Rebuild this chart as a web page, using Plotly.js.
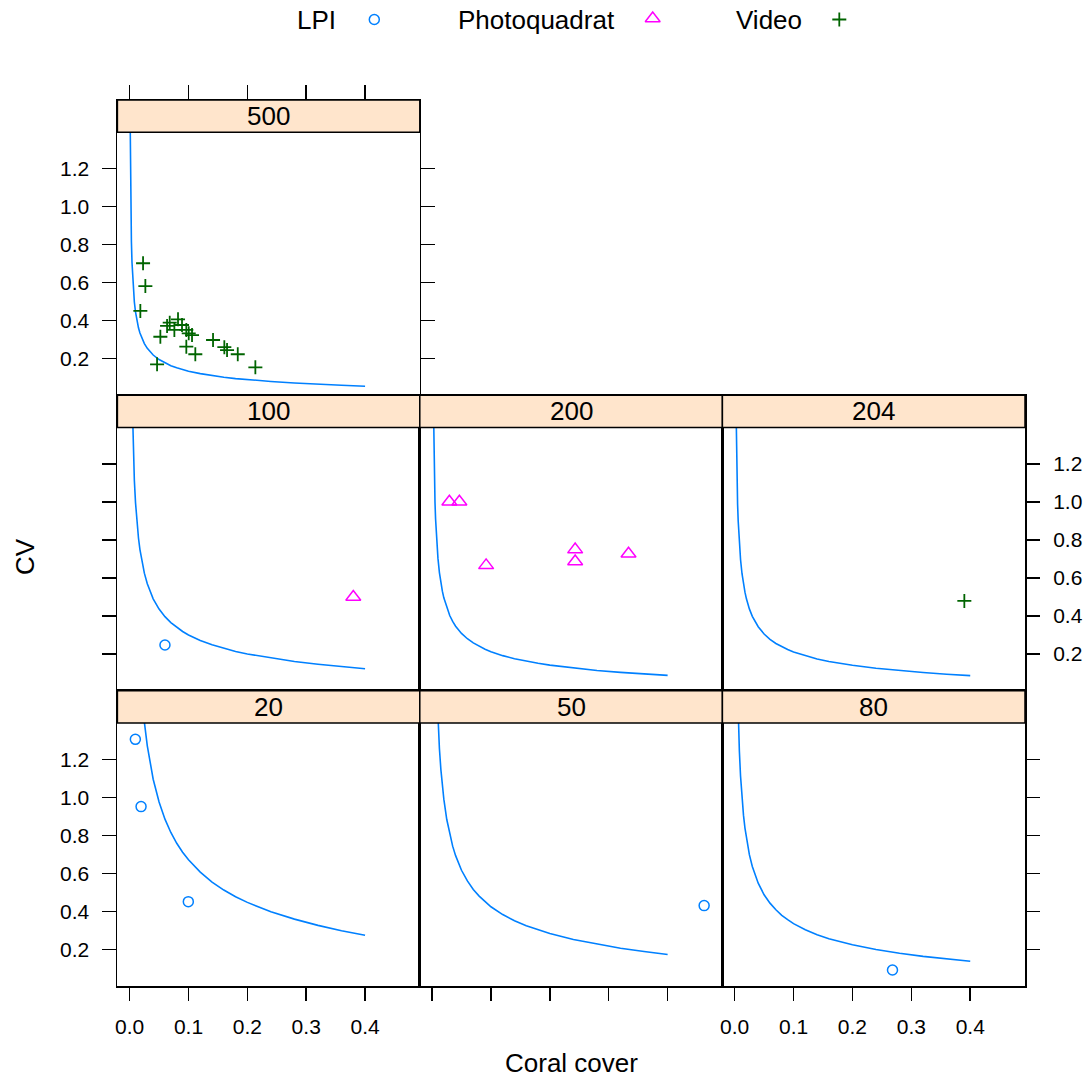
<!DOCTYPE html>
<html><head><meta charset="utf-8">
<script src="https://cdn.plot.ly/plotly-3.0.1.min.js"></script>
<style>body{margin:0;background:#fff}#chart{width:1088px;height:1081px}</style>
</head><body><div id="chart"></div>
<script>
// ---------------- data ----------------
const panelNames = ['500', '100', '200', '204', '20', '50', '80'];
const methodNames = ['LPI', 'Photoquadrat', 'Video'];
const yTickVals = [0.2, 0.4, 0.6, 0.8, 1.0, 1.2];
const xTickVals = [0.0, 0.1, 0.2, 0.3, 0.4];

const lpiPanel = ['100', '20', '20', '20', '50', '80'];
const lpiCover = [0.060, 0.0097, 0.0194, 0.0997, 0.462, 0.268];
const lpiCV    = [0.247, 1.305, 0.951, 0.451, 0.430, 0.091];

const photoPanel = ['100', '200', '200', '200', '200', '200', '200'];
const photoCover = [0.380, 0.0294, 0.0464, 0.0918, 0.243, 0.243, 0.3336];
const photoCV    = [0.500, 1.001, 1.001, 0.666, 0.749, 0.686, 0.727];

const videoPanel = ['500', '500', '500', '500', '500', '500', '500', '500', '500', '500',
                    '500', '500', '500', '500', '500', '500', '500', '500', '500', '500', '204'];
const videoCover = [0.0228, 0.0267, 0.0182, 0.0466, 0.0522, 0.0636, 0.0681, 0.0760, 0.0822, 0.0890,
                    0.0963, 0.1004, 0.1060, 0.0963, 0.1116, 0.1417, 0.1609, 0.1655, 0.1837, 0.2136, 0.390];
const videoCV    = [0.702, 0.582, 0.451, 0.170, 0.315, 0.372, 0.389, 0.351, 0.407, 0.377,
                    0.351, 0.333, 0.324, 0.263, 0.223, 0.298, 0.260, 0.245, 0.223, 0.154, 0.479];

// reference curves (each list ends at cover 0.4)
const curveCover = [0.001, 0.002, 0.003, 0.004, 0.005, 0.006, 0.008, 0.01, 0.0125, 0.015, 0.0175, 0.02,
                    0.025, 0.03, 0.035, 0.04, 0.05, 0.06, 0.07, 0.08, 0.09, 0.1, 0.12, 0.14, 0.16, 0.18,
                    0.2, 0.24, 0.28, 0.32, 0.36, 0.4];
const curve500 = [1.414, 0.999, 0.815, 0.706, 0.631, 0.576, 0.498, 0.445, 0.397, 0.362, 0.335, 0.313, 0.279,
                  0.254, 0.235, 0.219, 0.195, 0.177, 0.163, 0.152, 0.142, 0.134, 0.121, 0.111, 0.102, 0.095,
                  0.089, 0.080, 0.072, 0.065, 0.060, 0.055];
const curve204 = [1.564, 1.276, 1.105, 0.988, 0.901, 0.780, 0.697, 0.622, 0.567, 0.525, 0.490, 0.437, 0.398,
                  0.368, 0.343, 0.305, 0.277, 0.255, 0.237, 0.223, 0.210, 0.190, 0.173, 0.160, 0.149, 0.140,
                  0.125, 0.112, 0.102, 0.093, 0.086];
const curve200 = [1.580, 1.289, 1.116, 0.998, 0.910, 0.787, 0.704, 0.628, 0.573, 0.530, 0.495, 0.442, 0.402,
                  0.371, 0.346, 0.308, 0.280, 0.258, 0.240, 0.225, 0.212, 0.191, 0.175, 0.162, 0.151, 0.141,
                  0.126, 0.113, 0.103, 0.094, 0.087];
const curve100 = [1.578, 1.411, 1.287, 1.114, 0.995, 0.889, 0.810, 0.749, 0.700, 0.625, 0.569, 0.525, 0.490,
                  0.436, 0.396, 0.365, 0.339, 0.318, 0.300, 0.271, 0.248, 0.229, 0.213, 0.200, 0.178, 0.160,
                  0.146, 0.133, 0.122];
const curve80 = [1.577, 1.439, 1.245, 1.112, 0.994, 0.906, 0.838, 0.783, 0.698, 0.636, 0.587, 0.548, 0.487,
                 0.443, 0.408, 0.379, 0.356, 0.335, 0.303, 0.277, 0.256, 0.239, 0.224, 0.199, 0.179, 0.163,
                 0.149, 0.137];
const curve50 = [1.575, 1.407, 1.257, 1.146, 1.060, 0.990, 0.883, 0.804, 0.743, 0.693, 0.616, 0.560, 0.515,
                 0.480, 0.450, 0.424, 0.383, 0.350, 0.324, 0.302, 0.283, 0.252, 0.227, 0.206, 0.189, 0.173];
const curve20 = [1.565, 1.396, 1.271, 1.174, 1.095, 0.975, 0.885, 0.815, 0.758, 0.711, 0.671, 0.606, 0.554,
                 0.512, 0.477, 0.447, 0.398, 0.359, 0.326, 0.298, 0.274];
const curveByPanel = {'500': curve500, '100': curve100, '200': curve200, '204': curve204,
                      '20': curve20, '50': curve50, '80': curve80};

// ---------------- layout geometry ----------------
const W = 1088, H = 1081;
const FONT = 'Liberation Sans, Arial, Helvetica, sans-serif';
const colPx = [[117.4, 419.8], [419.8, 722.4], [722.4, 1025]];
const rowTop = [100, 395.3, 690.7];
const rowH = 295.3, stripH = 32.3;
const yRange = [0.007, 1.561];   // includes strip area above the panel
const xRange = [-0.0208, 0.493];
const panelPos = {'500': [0, 0], '100': [1, 0], '200': [1, 1], '204': [1, 2], '20': [2, 0], '50': [2, 1], '80': [2, 2]};
const px = v => v / W;
const py = v => 1 - v / H;

const LINE_W = 1.5, TICK_LEN = 13.5;
const tickFont = {family: FONT, size: 21, color: '#000'};

const colors = {LPI: '#0080ff', Photoquadrat: '#ff00ff', Video: '#006400'};
const markers = {
  LPI: {symbol: 'circle-open', size: 10, color: colors.LPI, line: {width: 1.5, color: colors.LPI}},
  Photoquadrat: {symbol: 'triangle-up-open', size: 13, color: colors.Photoquadrat, line: {width: 1.5, color: colors.Photoquadrat}},
  Video: {symbol: 'cross-thin-open', size: 10, color: colors.Video, line: {width: 1.8, color: colors.Video}}
};

const axisSpec = {
  '500': {xt: 'top', xl: false, yt: 'left', yl: true, ym: 'allticks'},
  '100': {xt: null, xl: false, yt: 'left', yl: false, ym: true},
  '200': {xt: null, xl: false, yt: null, yl: false, ym: true},
  '204': {xt: null, xl: false, yt: 'right', yl: true, ym: true},
  '20':  {xt: 'bottom', xl: true, yt: 'left', yl: true, ym: true},
  '50':  {xt: 'bottom', xl: false, yt: null, yl: false, ym: true},
  '80':  {xt: 'bottom', xl: true, yt: 'right', yl: false, ym: true}
};

const layout = {
  width: W, height: H,
  margin: {l: 0, r: 0, t: 0, b: 0, pad: 0},
  paper_bgcolor: '#fff', plot_bgcolor: 'rgba(0,0,0,0)',
  showlegend: false,
  font: {family: FONT, color: '#000'},
  shapes: [], annotations: []
};
const traces = [];

panelNames.forEach((name, i) => {
  const n = i + 1;
  const [r, c] = panelPos[name];
  const xd = [px(colPx[c][0]), px(colPx[c][1])];
  const yd = [py(rowTop[r] + rowH), py(rowTop[r])];
  const s = axisSpec[name];
  layout['xaxis' + n] = {
    domain: xd, range: xRange, anchor: 'y' + n,
    showgrid: false, zeroline: false, showline: true, mirror: true,
    linecolor: '#000', linewidth: LINE_W,
    side: s.xt || 'bottom',
    ticks: s.xt ? 'outside' : '', ticklen: TICK_LEN, tickwidth: LINE_W, tickcolor: '#000',
    tickmode: 'array', tickvals: xTickVals, tickformat: '.1f',
    showticklabels: s.xl, tickfont: tickFont, ticklabelstandoff: 8, fixedrange: true
  };
  layout['yaxis' + n] = {
    domain: yd, range: yRange, anchor: 'x' + n,
    showgrid: false, zeroline: false, showline: true, mirror: s.ym,
    linecolor: '#000', linewidth: LINE_W,
    side: s.yt || 'left',
    ticks: s.yt ? 'outside' : '', ticklen: TICK_LEN, tickwidth: LINE_W, tickcolor: '#000',
    tickmode: 'array', tickvals: yTickVals, tickformat: '.1f',
    showticklabels: s.yl, tickfont: tickFont, ticklabelstandoff: 9, fixedrange: true
  };

  const cy = curveByPanel[name];
  traces.push({
    type: 'scatter', mode: 'lines', xaxis: 'x' + n, yaxis: 'y' + n,
    x: curveCover.slice(curveCover.length - cy.length), y: cy,
    line: {color: colors.LPI, width: 1.6}, hoverinfo: 'skip'
  });

  [[lpiPanel, lpiCover, lpiCV, 'LPI'], [photoPanel, photoCover, photoCV, 'Photoquadrat'],
   [videoPanel, videoCover, videoCV, 'Video']].forEach(([pp, xc, yc, m]) => {
    const xs = [], ys = [];
    pp.forEach((p, k) => { if (p === name) { xs.push(xc[k]); ys.push(yc[k]); } });
    if (xs.length) traces.push({
      type: 'scatter', mode: 'markers', xaxis: 'x' + n, yaxis: 'y' + n,
      x: xs, y: ys, marker: markers[m], name: m, cliponaxis: false
    });
  });

  layout.shapes.push({
    type: 'rect', layer: 'above', xref: 'paper', yref: 'paper',
    x0: xd[0], x1: xd[1], y0: py(rowTop[r] + stripH), y1: py(rowTop[r]),
    fillcolor: '#ffe5cc', line: {color: '#000', width: LINE_W}
  });
  layout.annotations.push({
    xref: 'paper', yref: 'paper', x: (xd[0] + xd[1]) / 2, y: py(rowTop[r] + stripH / 2),
    text: name, showarrow: false, xanchor: 'center', yanchor: 'middle',
    font: {family: FONT, size: 26, color: '#000'}
  });
});

layout.annotations.push({
  xref: 'paper', yref: 'paper', x: px(571), y: py(1063), text: 'Coral cover', showarrow: false,
  xanchor: 'center', yanchor: 'middle', font: {family: FONT, size: 26, color: '#000'}
});
layout.annotations.push({
  xref: 'paper', yref: 'paper', x: px(25), y: py(557), text: 'CV', showarrow: false, textangle: -90,
  xanchor: 'center', yanchor: 'middle', font: {family: FONT, size: 26, color: '#000'}
});

const keyTextX = [316, 536, 768.5];
const keySymX = [374.3, 652.7, 839.3];
layout.xaxis8 = {domain: [0, 1], range: [0, W], visible: false, fixedrange: true, anchor: 'y8'};
layout.yaxis8 = {domain: [0, 1], range: [H, 0], visible: false, fixedrange: true, anchor: 'x8'};
methodNames.forEach((m, k) => {
  layout.annotations.push({
    xref: 'paper', yref: 'paper', x: px(keyTextX[k]), y: py(19.5), text: m, showarrow: false,
    xanchor: 'center', yanchor: 'middle', font: {family: FONT, size: 26, color: '#000'}
  });
  traces.push({
    type: 'scatter', mode: 'markers', xaxis: 'x8', yaxis: 'y8',
    x: [keySymX[k]], y: [m === 'Photoquadrat' ? 18.5 : 19.5], marker: markers[m], name: m, hoverinfo: 'skip'
  });
});

Plotly.newPlot('chart', traces, layout, {displayModeBar: false, staticPlot: true});
</script>
</body></html>
